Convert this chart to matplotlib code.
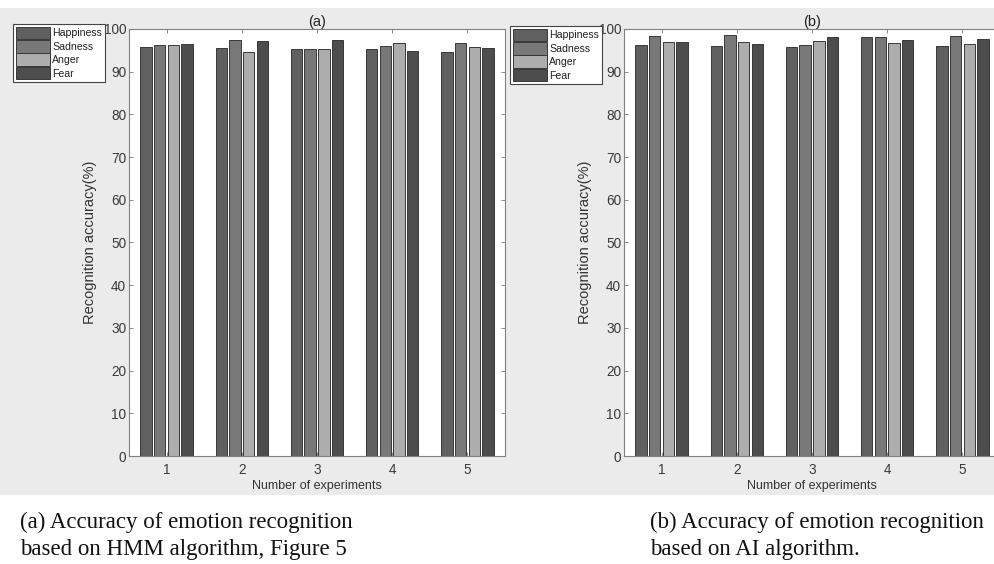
import matplotlib
matplotlib.use("Agg")
import matplotlib.pyplot as plt
from matplotlib.patches import Rectangle
import numpy as np

plt.rcParams['font.family'] = ['Liberation Sans', 'DejaVu Sans']

experiments = [1, 2, 3, 4, 5]
emotions = ['Happiness', 'Sadness', 'Anger', 'Fear']

hmm_happiness = [95.8, 95.6, 95.4, 95.4, 94.6]
hmm_sadness = [96.2, 97.4, 95.2, 96.0, 96.8]
hmm_anger = [96.2, 94.6, 95.4, 96.8, 95.8]
hmm_fear = [96.6, 97.2, 97.4, 94.9, 95.6]

ai_happiness = [96.2, 96.0, 95.8, 98.2, 96.0]
ai_sadness = [98.4, 98.6, 96.2, 98.2, 98.4]
ai_anger = [97.0, 97.0, 97.2, 96.8, 96.6]
ai_fear = [97.0, 96.6, 98.2, 97.4, 97.6]

yticks = [0, 10, 20, 30, 40, 50, 60, 70, 80, 90, 100]
colors = ['#606060', '#787878', '#adadad', '#4d4d4d']
edge = '#383838'

W, H = 995, 564
fig = plt.figure(figsize=(W / 100, H / 100), dpi=100)
fig.patch.set_facecolor('white')
fig.patches.append(Rectangle((0, 1 - 495 / H), 1, (495 - 8) / H,
                             transform=fig.transFigure, facecolor='#ebebeb',
                             edgecolor='none', zorder=-10))

def panel(x0px, series, title, legend_xy):
    ax = fig.add_axes([x0px / W, 1 - 456 / H, (505 - 129) / W, (456 - 29) / H])
    ax.set_facecolor('white')
    x = np.array(experiments, dtype=float)
    bw = 0.152
    step = 0.182
    offsets = [-1.5 * step, -0.5 * step, 0.5 * step, 1.5 * step]
    handles = []
    for vals, off, c, lab in zip(series, offsets, colors, emotions):
        b = ax.bar(x + off, vals, width=bw, color=c, edgecolor=edge,
                   linewidth=0.7, label=lab, zorder=2)
        handles.append(b)
    ax.set_xlim(0.5, 5.5)
    ax.set_ylim(0, 100)
    ax.set_xticks(experiments)
    ax.set_yticks(yticks)
    ax.tick_params(direction='in', length=3, width=0.6, colors='#777777',
                   labelcolor='#3a3a3a', labelsize=9.8, top=True, right=True)
    ax.tick_params(axis='y', pad=2)
    ax.tick_params(axis='x', pad=5)
    for s in ax.spines.values():
        s.set_color('#808080')
        s.set_linewidth(0.8)
    ax.set_title(title, fontsize=10.5, color='#222222', pad=2)
    ax.set_xlabel('Number of experiments', fontsize=9, color='#333333', labelpad=2)
    ax.set_ylabel('Recognition accuracy(%)', fontsize=10.5, color='#333333', labelpad=5)
    leg = fig.legend(handles=handles, labels=emotions, loc='upper left',
                     bbox_to_anchor=legend_xy, borderaxespad=0, fontsize=7.6,
                     handlelength=3.3, handleheight=1.45, handletextpad=0.15,
                     borderpad=0.25, labelspacing=0.08, fancybox=False,
                     framealpha=1, edgecolor='#444444')
    leg.get_frame().set_linewidth(0.8)
    for t in leg.get_texts():
        t.set_color('#222222')
    return ax

panel(129, [hmm_happiness, hmm_sadness, hmm_anger, hmm_fear], '(a)',
      (13 / W, 1 - 24 / H))
panel(624, [ai_happiness, ai_sadness, ai_anger, ai_fear], '(b)',
      (510 / W, 1 - 26 / H))

cap_font = ['Liberation Serif', 'DejaVu Serif']
cap_size = 16.5
fig.text(20 / W, 1 - 522 / H, '(a) Accuracy of emotion recognition', family=cap_font,
         fontsize=cap_size, va='center', ha='left', color='#111111')
fig.text(20 / W, 1 - 550 / H, 'based on HMM algorithm, Figure 5', family=cap_font,
         fontsize=cap_size, va='center', ha='left', color='#111111')
fig.text(650 / W, 1 - 522 / H, '(b) Accuracy of emotion recognition', family=cap_font,
         fontsize=cap_size, va='center', ha='left', color='#111111')
fig.text(650 / W, 1 - 550 / H, 'based on AI algorithm.', family=cap_font,
         fontsize=cap_size, va='center', ha='left', color='#111111')

fig.savefig('out.png', dpi=100)
